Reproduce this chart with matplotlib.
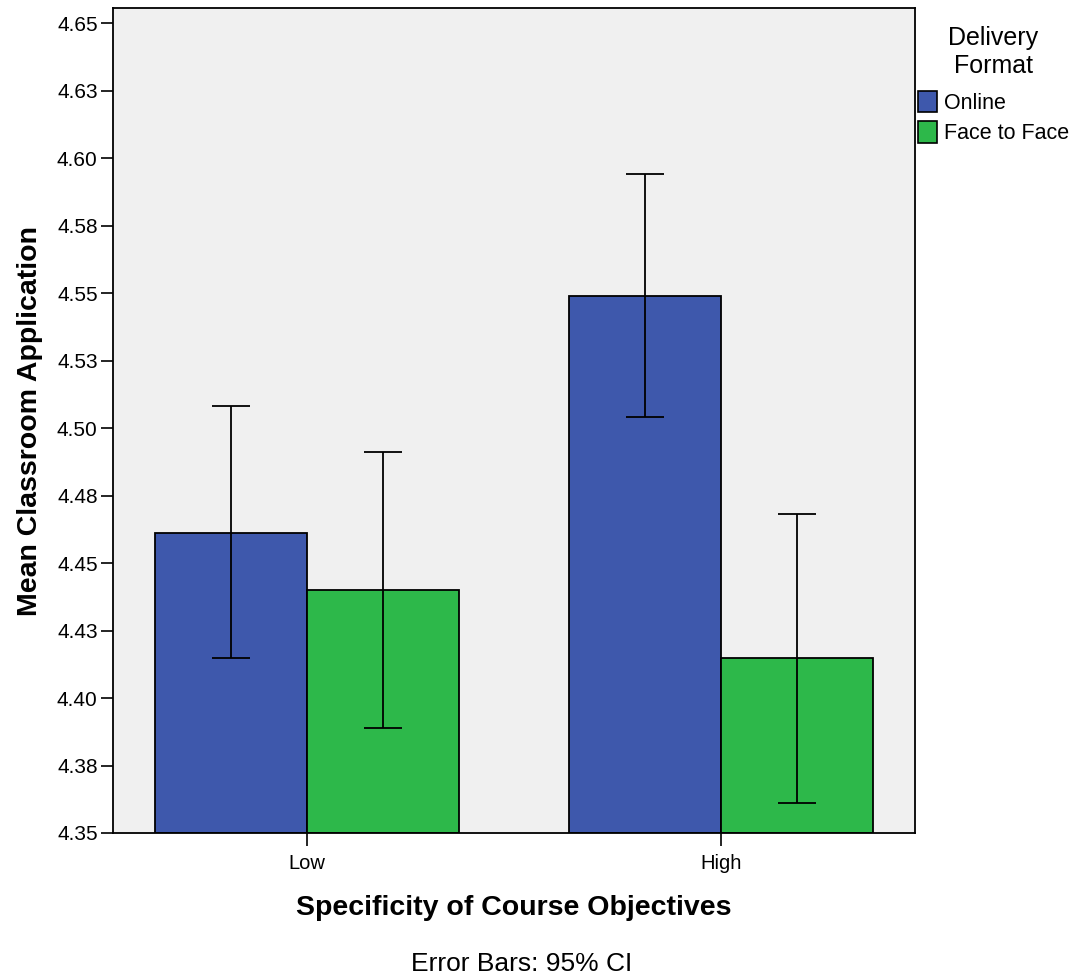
import numpy as np
import matplotlib
matplotlib.use("Agg")
import matplotlib.pyplot as plt
from matplotlib.patches import Patch

plt.rcParams['font.family'] = ['Liberation Sans', 'DejaVu Sans']

# data
categories = ['Low', 'High']
groups = ['Online', 'Face to Face']
means = {
    'Online': [4.461, 4.549],
    'Face to Face': [4.440, 4.415],
}
ci_low = {
    'Online': [4.415, 4.504],
    'Face to Face': [4.389, 4.361],
}
ci_high = {
    'Online': [4.508, 4.594],
    'Face to Face': [4.491, 4.468],
}
ytick_values = [4.35, 4.375, 4.40, 4.425, 4.45, 4.475, 4.50, 4.525, 4.55, 4.575, 4.60, 4.625, 4.65]
ytick_labels = ['4.35', '4.38', '4.40', '4.43', '4.45', '4.48', '4.50', '4.53', '4.55', '4.58', '4.60', '4.63', '4.65']
colors = {'Online': '#3E58AC', 'Face to Face': '#2DB84A'}

fig = plt.figure(figsize=(10.72, 9.8), dpi=100)
ax = fig.add_axes([0.1054, 0.15, 0.748, 0.8418])
ax.set_facecolor('#F0F0F0')

x = np.arange(len(categories))
width = 0.368
offsets = [-width / 2, width / 2]

for g, off in zip(groups, offsets):
    m = np.array(means[g])
    lo = m - np.array(ci_low[g])
    hi = np.array(ci_high[g]) - m
    ax.bar(x + off, m - 4.35, width, bottom=4.35, color=colors[g],
           edgecolor='black', linewidth=1.3, zorder=2)
    ax.errorbar(x + off, m, yerr=[lo, hi], fmt='none', ecolor='black',
                elinewidth=1.3, capsize=14, capthick=1.3, zorder=3)

ax.set_xlim(-0.4686, 1.4686)
ax.set_ylim(4.35, 4.6556)
ax.set_yticks(ytick_values)
ax.set_yticklabels(ytick_labels)
ax.set_xticks(x)
ax.set_xticklabels(categories)
ax.tick_params(axis='y', labelsize=15, length=9, width=1.2, direction='out', pad=2)
ax.tick_params(axis='x', labelsize=14.5, length=9, width=1.2, direction='out', pad=6)
for s in ax.spines.values():
    s.set_linewidth(1.3)

ax.set_ylabel('Mean Classroom Application', fontsize=20.5, fontweight='bold', labelpad=10)
ax.set_xlabel('Specificity of Course Objectives', fontsize=20.5, fontweight='bold', labelpad=16)

fig.text(0.4865, 0.004, 'Error Bars: 95% CI', ha='center', va='bottom', fontsize=19)

handles = [Patch(facecolor=colors[g], edgecolor='black', linewidth=1.2) for g in groups]
leg = fig.legend(handles, groups, title='Delivery\nFormat', loc='upper left',
                 bbox_to_anchor=(0.8563, 0.973), frameon=False, fontsize=15.5,
                 title_fontsize=18, handlelength=0.9, handleheight=1.15,
                 handletextpad=0.3, labelspacing=0.35, borderaxespad=0,
                 borderpad=0)
leg._legend_box.align = 'center'
leg.get_title().set_multialignment('center')
leg._legend_box.sep = 9

fig.savefig('out.png', dpi=100)
